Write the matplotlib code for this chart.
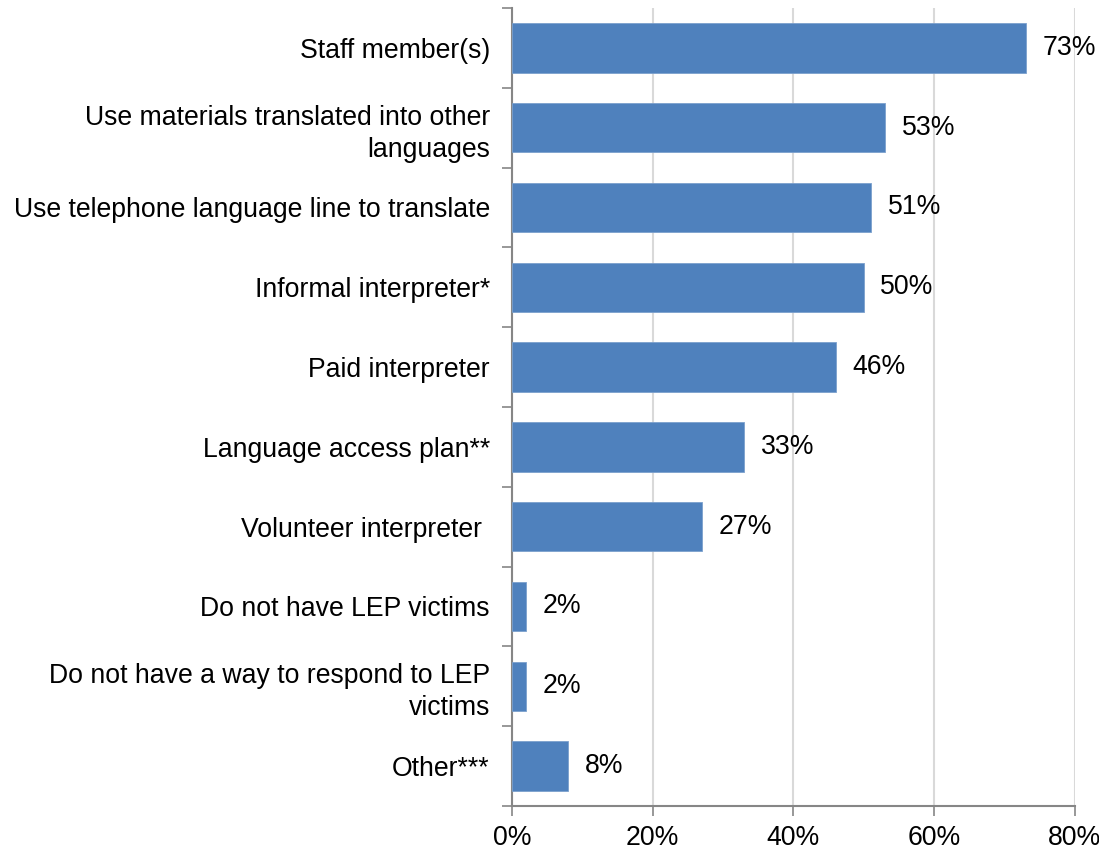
import matplotlib.pyplot as plt
import numpy as np

plt.rcParams['font.family'] = ['Liberation Sans', 'DejaVu Sans']

# categories top to bottom
categories = [
    "Staff member(s)",
    "Use materials translated into other\nlanguages",
    "Use telephone language line to translate",
    "Informal interpreter*",
    "Paid interpreter",
    "Language access plan**",
    "Volunteer interpreter ",
    "Do not have LEP victims",
    "Do not have a way to respond to LEP\nvictims",
    "Other***",
]
values = [73, 53, 51, 50, 46, 33, 27, 2, 2, 8]
xticks = [0, 20, 40, 60, 80]

bar_color = '#4F81BD'
axis_color = '#868686'
grid_color = '#D9D9D9'
fs = 19.2

fig = plt.figure(figsize=(10.99, 8.5), dpi=100)
ax = fig.add_axes([0.4659, 0.0518, 0.978 - 0.4659, 0.9906 - 0.0518])

n = len(categories)
y = np.arange(n)
ax.barh(y, values, height=0.62, color=bar_color, edgecolor='#7BA0CD',
        linewidth=0.6, zorder=3)

for yi, v in zip(y, values):
    ax.annotate(f"{v}%", (v, yi), xytext=(12, 0), textcoords='offset points',
                va='center', ha='left', fontsize=fs)

ax.set_ylim(n - 0.5, -0.5)
ax.set_xlim(0, 80)

# category labels as minor ticks, boundaries as major ticks
ax.set_yticks(np.arange(-0.5, n, 1))
ax.set_yticklabels([])
ax.set_yticks(y, minor=True)
ax.set_yticklabels(categories, minor=True, fontsize=fs, ha='right',
                   multialignment='right', linespacing=1.3)
ax.tick_params(axis='y', which='minor', length=0, pad=16)
ax.tick_params(axis='y', which='major', length=7, width=1.2, color=axis_color)

ax.set_xticks(xticks)
ax.set_xticklabels([f"{t}%" for t in xticks], fontsize=fs)
ax.tick_params(axis='x', length=7, width=1.2, color=axis_color, pad=7)
ax.xaxis.grid(True, color=grid_color, linewidth=1.5, zorder=0)
ax.set_axisbelow(True)

for s in ['top', 'right']:
    ax.spines[s].set_visible(False)
for s in ['left', 'bottom']:
    ax.spines[s].set_color(axis_color)
    ax.spines[s].set_linewidth(1.5)

fig.savefig('out.png', dpi=100)
